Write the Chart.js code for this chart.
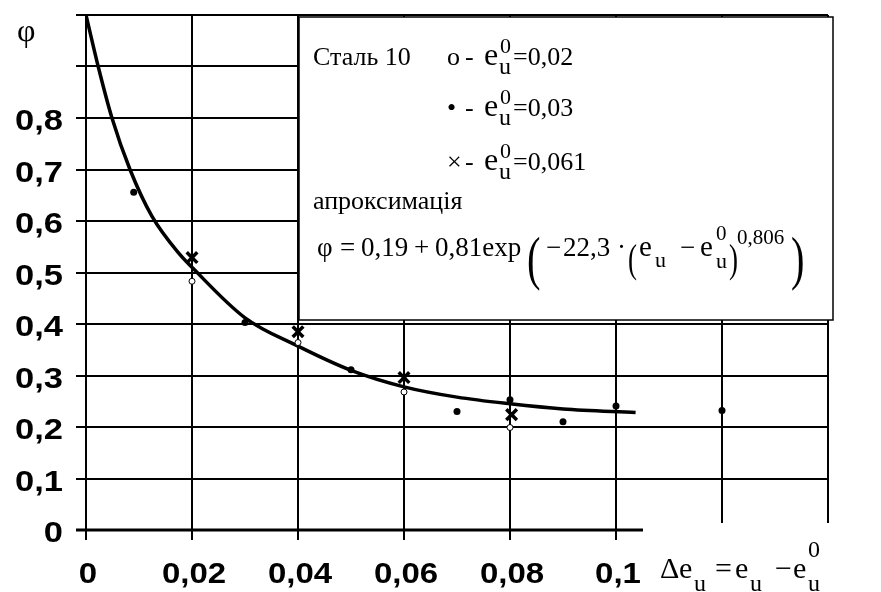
<!DOCTYPE html>
<html>
<head>
<meta charset="utf-8">
<script src="https://cdn.jsdelivr.net/npm/chart.js@4.4.1/dist/chart.umd.min.js"></script>
<style>
  html, body { margin: 0; padding: 0; background: #fff; }
  canvas { display: block; }
</style>
</head>
<body>
<canvas id="myChart" width="881" height="592"></canvas>
<script>
// approximation curve
const curveX = [0, 0.0023, 0.0049, 0.0083, 0.0124, 0.0177, 0.02, 0.03, 0.04, 0.05, 0.06, 0.07, 0.08, 0.09, 0.1037];
const curveY = [1.0, 0.9, 0.8, 0.7, 0.61, 0.535, 0.51, 0.412, 0.357, 0.31, 0.278, 0.258, 0.245, 0.235, 0.228];

// o - e0 = 0,02
const openX = [0.02, 0.04, 0.06, 0.08];
const openY = [0.483, 0.364, 0.268, 0.199];

// • - e0 = 0,03
const dotX = [0.009, 0.03, 0.05, 0.07, 0.08, 0.09, 0.1, 0.12];
const dotY = [0.656, 0.403, 0.311, 0.23, 0.253, 0.21, 0.241, 0.232];

// × - e0 = 0,061
const crossX = [0.02, 0.04, 0.06, 0.0803];
const crossY = [0.529, 0.385, 0.296, 0.224];

const xGrid = [0, 0.02, 0.04, 0.06, 0.08, 0.1, 0.12, 0.14];
const xTickLabels = ['0', '0,02', '0,04', '0,06', '0,08', '0,1'];
const yGrid = [0, 0.1, 0.2, 0.3, 0.4, 0.5, 0.6, 0.7, 0.8, 0.9, 1.0];
const yTickLabels = ['0', '0,1', '0,2', '0,3', '0,4', '0,5', '0,6', '0,7', '0,8'];

const SERIF = '"Liberation Serif", "Times New Roman", serif';
const SANS = '"Liberation Sans", Arial, sans-serif';

function pts(xs, ys) {
    return xs.map((x, i) => ({ x: x, y: ys[i] }));
}

// plain serif text
function t(ctx, s, x, y, size) {
    ctx.font = size + 'px ' + SERIF;
    ctx.textAlign = 'left';
    ctx.textBaseline = 'alphabetic';
    ctx.fillText(s, x, y);
}

// stretched bracket
function paren(ctx, s, x, cy, size, sx, sy) {
    ctx.save();
    ctx.translate(x, cy);
    ctx.scale(sx, sy);
    ctx.font = size + 'px ' + SERIF;
    ctx.textAlign = 'left';
    ctx.textBaseline = 'middle';
    ctx.fillText(s, 0, 0);
    ctx.restore();
}

// bold, a bit wide tick label
function tickText(ctx, s, x, y, size, sx, align) {
    ctx.save();
    ctx.translate(x, y);
    ctx.scale(sx, 1);
    ctx.font = 'bold ' + size + 'px ' + SANS;
    ctx.textAlign = align;
    ctx.textBaseline = 'middle';
    ctx.fillText(s, 0, 0);
    ctx.restore();
}

const decor = {
    id: 'decor',
    afterDraw(chart) {
        const ctx = chart.ctx;
        const xs = chart.scales.x, ys = chart.scales.y;
        const area = chart.chartArea;
        ctx.save();
        ctx.fillStyle = '#000';
        ctx.strokeStyle = '#000';

        // short gridlines on the right
        ctx.lineWidth = 2;
        [0.12, 0.14].forEach(v => {
            const px = Math.round(xs.getPixelForValue(v));
            ctx.beginPath();
            ctx.moveTo(px, area.top);
            ctx.lineTo(px, area.bottom - 7);
            ctx.stroke();
        });

        // zero line
        ctx.lineWidth = 3;
        const y0 = ys.getPixelForValue(0);
        ctx.beginPath();
        ctx.moveTo(area.left - 10, y0);
        ctx.lineTo(643, y0);
        ctx.stroke();

        // tick labels
        yTickLabels.forEach((s, i) => {
            tickText(ctx, s, 63, ys.getPixelForValue(yGrid[i]) + 4, 30, 1.15, 'right');
        });
        xTickLabels.forEach((s, i) => {
            tickText(ctx, s, xs.getPixelForValue(xGrid[i]) + 2, 575, 30, 1.1, 'center');
        });

        // axis titles
        t(ctx, 'φ', 17, 41, 32);
        t(ctx, 'Δ', 660, 578, 30);
        t(ctx, 'e', 679, 578, 30);
        t(ctx, 'u', 694, 591, 24);
        t(ctx, '=', 715, 578, 30);
        t(ctx, 'e', 735, 578, 30);
        t(ctx, 'u', 750, 591, 24);
        t(ctx, '−', 775, 578, 30);
        t(ctx, 'e', 793, 578, 30);
        t(ctx, '0', 808, 557, 24);
        t(ctx, 'u', 808, 591, 24);

        // legend box
        const bx = xs.getPixelForValue(0.04) + 1;
        ctx.fillStyle = '#fff';
        ctx.fillRect(bx, 17, 833 - bx, 320 - 17);
        ctx.lineWidth = 1.5;
        ctx.strokeRect(bx, 17, 833 - bx, 320 - 17);
        ctx.fillStyle = '#000';

        t(ctx, 'Сталь 10', 313, 65, 26);
        const rows = [['o', 65, '=0,02'], ['•', 116, '=0,03'], ['×', 170, '=0,061']];
        rows.forEach(r => {
            t(ctx, r[0], 447, r[1], 26);
            t(ctx, '-', 465, r[1], 26);
            t(ctx, 'e', 484, r[1], 32);
            t(ctx, '0', 500, r[1] - 12, 22);
            t(ctx, 'u', 499, r[1] + 9, 24);
            t(ctx, r[2], 513, r[1], 26);
        });
        t(ctx, 'апроксимація', 313, 209, 26);

        const fb = 256;
        t(ctx, 'φ', 317, fb, 27);
        t(ctx, '=', 340, fb, 27);
        t(ctx, '0,19', 361, fb, 27);
        t(ctx, '+', 414, fb, 27);
        t(ctx, '0,81exp', 435, fb, 27);
        paren(ctx, '(', 527, 262, 27, 1.5, 2.2);
        t(ctx, '−', 546, fb, 27);
        t(ctx, '22,3', 563, fb, 27);
        t(ctx, '·', 617, fb, 27);
        paren(ctx, '(', 628, 261, 27, 1.0, 1.5);
        t(ctx, 'e', 639, fb, 29);
        t(ctx, 'u', 655, fb + 11, 22);
        t(ctx, '−', 680, fb, 27);
        t(ctx, 'e', 700, fb, 29);
        t(ctx, '0', 716, fb - 16, 21);
        t(ctx, 'u', 716, fb + 12, 22);
        paren(ctx, ')', 729, 261, 27, 1.0, 1.5);
        t(ctx, '0,806', 737, fb - 12, 21);
        paren(ctx, ')', 791, 262, 27, 1.5, 2.2);

        ctx.restore();
    }
};

const ctx = document.getElementById('myChart').getContext('2d');
new Chart(ctx, {
    type: 'scatter',
    data: {
        datasets: [
            {
                data: pts(curveX, curveY),
                showLine: true,
                borderColor: '#000',
                borderWidth: 3.5,
                pointRadius: 0,
                cubicInterpolationMode: 'monotone',
                order: 10
            },
            {
                data: pts(openX, openY),
                pointStyle: 'circle',
                pointRadius: 3,
                backgroundColor: '#fff',
                borderColor: '#000',
                borderWidth: 1,
                order: 3
            },
            {
                data: pts(dotX, dotY),
                pointStyle: 'circle',
                pointRadius: 3.5,
                backgroundColor: '#000',
                borderColor: '#000',
                borderWidth: 0,
                order: 2
            },
            {
                data: pts(crossX, crossY),
                pointStyle: 'crossRot',
                pointRadius: 7.5,
                borderColor: '#000',
                borderWidth: 3.5,
                order: 1
            }
        ]
    },
    options: {
        responsive: false,
        animation: false,
        layout: { padding: { top: 15, right: 53, left: 0, bottom: 0 } },
        plugins: { legend: { display: false }, tooltip: { enabled: false } },
        scales: {
            x: {
                type: 'linear',
                min: 0,
                max: 0.14,
                afterBuildTicks: s => { s.ticks = xGrid.map(v => ({ value: v })); },
                afterFit: s => { s.height = 62; },
                ticks: { display: false },
                grid: {
                    color: c => (c.tick && c.tick.value > 0.11) ? 'rgba(0,0,0,0)' : '#000',
                    lineWidth: 2,
                    tickLength: 10
                },
                border: { display: false }
            },
            y: {
                min: 0,
                max: 1,
                afterBuildTicks: s => { s.ticks = yGrid.map(v => ({ value: v })); },
                afterFit: s => { s.width = 86; },
                ticks: { display: false },
                grid: {
                    color: c => (c.tick && c.tick.value === 0) ? 'rgba(0,0,0,0)' : '#000',
                    lineWidth: 2,
                    tickLength: 10
                },
                border: { display: true, color: '#000', width: 2 }
            }
        }
    },
    plugins: [decor]
});
</script>
</body>
</html>
